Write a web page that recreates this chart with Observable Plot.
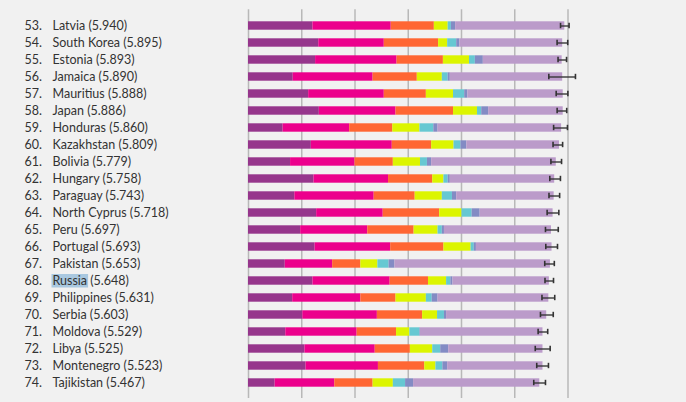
<!DOCTYPE html>
<html><head><meta charset="utf-8">
<script src="https://cdn.jsdelivr.net/npm/d3@7"></script>
<script src="https://cdn.jsdelivr.net/npm/@observablehq/plot@0.6"></script>
<style>body{margin:0;background:#f1f1f1;}svg{display:block;}</style>
</head><body><div id="c"></div>
<script>
const ranks = [53,54,55,56,57,58,59,60,61,62,63,64,65,66,67,68,69,70,71,72,73,74];
const countries = ["Latvia","South Korea","Estonia","Jamaica","Mauritius","Japan","Honduras","Kazakhstan","Bolivia","Hungary","Paraguay","North Cyprus","Peru","Portugal","Pakistan","Russia","Philippines","Serbia","Moldova","Libya","Montenegro","Tajikistan"];
const scores = [5.940,5.895,5.893,5.890,5.888,5.886,5.860,5.809,5.779,5.758,5.743,5.718,5.697,5.693,5.653,5.648,5.631,5.603,5.529,5.525,5.523,5.467];
const gdp      = [1.21,1.32,1.26,0.84,1.13,1.33,0.65,1.18,0.79,1.23,0.87,1.28,0.98,1.25,0.69,1.21,0.83,1.02,0.70,1.06,1.08,0.50];
const social   = [1.47,1.23,1.53,1.50,1.42,1.44,1.25,1.52,1.21,1.40,1.49,1.25,1.26,1.42,0.89,1.45,1.28,1.40,1.34,1.32,1.36,1.12];
const health   = [0.81,1.02,0.87,0.83,0.79,1.08,0.81,0.74,0.72,0.83,0.77,1.06,0.87,1.00,0.53,0.72,0.66,0.85,0.74,0.66,0.87,0.72];
const freedom  = [0.26,0.17,0.49,0.47,0.51,0.45,0.51,0.42,0.51,0.21,0.51,0.42,0.45,0.51,0.32,0.34,0.57,0.28,0.25,0.42,0.21,0.38];
const generosity=[0.06,0.17,0.11,0.11,0.21,0.08,0.26,0.13,0.13,0.08,0.19,0.19,0.08,0.06,0.21,0.08,0.11,0.13,0.19,0.15,0.13,0.23];
const corruption=[0.08,0.06,0.15,0.04,0.06,0.13,0.08,0.11,0.08,0.04,0.08,0.15,0.04,0.04,0.11,0.04,0.11,0.04,0.01,0.15,0.09,0.15];
const dystopia = [2.05,1.93,1.48,2.11,1.79,1.40,2.32,1.74,2.34,1.96,1.83,1.37,2.01,1.42,2.92,1.81,2.08,1.88,2.30,1.77,1.79,2.37];
const ciHalf   = [0.08,0.10,0.08,0.25,0.11,0.09,0.13,0.09,0.10,0.10,0.10,0.11,0.12,0.11,0.09,0.08,0.12,0.12,0.09,0.14,0.11,0.11];
const factors = ["GDP","Social support","Healthy life expectancy","Freedom","Generosity","Corruption","Dystopia + residual"];
const colors = ["#96368c","#ec008c","#ff6633","#dcf500","#66c8d2","#838bc4","#bb9bca"];
const gridTicks = [0,1,2,3,4,5,6];

const series=[gdp,social,health,freedom,generosity,corruption,dystopia];
const segs=[];
countries.forEach((c,i)=>series.forEach((s,k)=>segs.push({country:c,factor:factors[k],value:s[i]})));
const rows=countries.map((c,i)=>({country:c,rank:ranks[i]+".",label:c+" ("+scores[i].toFixed(3)+")",lo:scores[i]-ciHalf[i],hi:scores[i]+ciHalf[i]}));
const chart=Plot.plot({
  width:686,height:402,marginLeft:248,marginRight:12,marginTop:9.2,marginBottom:4,
  style:{background:"#f1f1f1",fontFamily:"Lato, 'Open Sans', sans-serif"},
  x:{domain:[0,8],axis:null},
  y:{domain:countries,axis:null,padding:0},
  color:{domain:factors,range:colors},
  marks:[
    Plot.ruleX(gridTicks,{stroke:"#b8b8b8",strokeWidth:1.5}),
    Plot.barX(segs,Plot.stackX({x:"value",y:"country",fill:"factor",order:factors,insetTop:4.3,insetBottom:4.3})),
    Plot.link(rows,{x1:"lo",x2:"hi",y1:"country",y2:"country",stroke:"#333",strokeWidth:1.6,strokeOpacity:0.85}),
    Plot.tickX(rows,{x:"lo",y:"country",stroke:"#333",strokeWidth:1.6,insetTop:5.8,insetBottom:5.8}),
    Plot.tickX(rows,{x:"hi",y:"country",stroke:"#333",strokeWidth:1.6,insetTop:5.8,insetBottom:5.8}),
    Plot.text(rows,{y:"country",text:"rank",frameAnchor:"left",dx:-224,textAnchor:"start",fontSize:12.5,fill:"#333"}),
    Plot.text(rows,{y:"country",text:"label",frameAnchor:"left",dx:-196,textAnchor:"start",fontSize:12.5,fill:"#333"})
  ]
});
document.getElementById("c").appendChild(chart);
// highlight "Russia"
chart.querySelectorAll("text").forEach(t=>{
  if(t.textContent.startsWith("Russia (")){
    const full=t.getBBox();
    const w=t.getSubStringLength(0,6);
    const r=document.createElementNS("http://www.w3.org/2000/svg","rect");
    r.setAttribute("x",full.x-1);r.setAttribute("y",full.y+1);r.setAttribute("width",w+2);r.setAttribute("height",full.height-1.5);
    r.setAttribute("fill","#a9c8e0");
    if(t.getAttribute("transform")) r.setAttribute("transform",t.getAttribute("transform"));
    t.parentNode.insertBefore(r,t);
  }
});
</script></body></html>
